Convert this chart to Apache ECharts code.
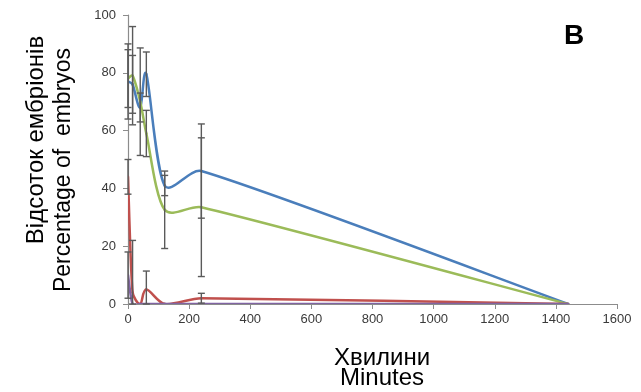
<!DOCTYPE html>
<html>
<head>
<meta charset="utf-8">
<script src="https://cdn.jsdelivr.net/npm/echarts@6/dist/echarts.min.js"></script>
<style>
    html, body { margin: 0; padding: 0; background: #fff; }
    #chart { width: 641px; height: 392px; }
</style>
</head>
<body>
<div id="chart"></div>
<script>
// time points (minutes)
const minutes = [0, 15, 40, 60, 120, 240, 1440];

// series values and +/- error
const blueVals   = [77, 76, 68, 79.5, 41, 46, 0];
const blueErr    = [13, 10, 5, 7.7, 3.5, 16.3, 0];
const greenVals  = [78, 79, 70, 59, 32.6, 33.5, 0];
const greenErr   = [10, 17, 18.6, 8, 13.4, 24, 0];
const redVals    = [44, 4, 0, 5, 0, 2, 0];
const redErr     = [6, 18, 0, 6.4, 0, 1.7, 0];
const purpleVals = [10, 0, 0, 0, 0, 0, 0];
const purpleErr  = [8, 0, 0, 0, 0, 0, 0];

const yTicks = [0, 20, 40, 60, 80, 100];
const xTicks = [0, 200, 400, 600, 800, 1000, 1200, 1400, 1600];

function pairs(vals){
    return minutes.map((m, i) => [m, vals[i]]);
}
function errRows(vals, errs){
    let rows = [];
    minutes.forEach((m, i) => {
        if (errs[i] > 0) rows.push([m, Math.max(0, vals[i] - errs[i]), vals[i] + errs[i]]);
    });
    return rows;
}

// control arm, 1/6 of neighbour difference, capped relative to the chord
function arm(a, b, chord){
    let dx = (b[0] - a[0]) / 6, dy = (b[1] - a[1]) / 6;
    let len = Math.sqrt(dx * dx + dy * dy);
    let cap = chord * 0.3;
    if (len > cap && len > 0) { dx *= cap / len; dy *= cap / len; }
    return [dx, dy];
}

// excel-like smoothed line: each item draws the bezier segment to the next point
function lineSeries(name, vals, color){
    let data = pairs(vals);
    return {
        name: name,
        type: 'custom',
        clip: true,
        data: data,
        z: 2,
        renderItem: function(params, api){
            let i = params.dataIndex;
            if (i >= data.length - 1) return { type: 'group', children: [] };
            let pts = data.map(d => api.coord(d));
            let p0 = pts[i - 1] || pts[i], p1 = pts[i], p2 = pts[i + 1], p3 = pts[i + 2] || pts[i + 1];
            let chord = Math.sqrt(Math.pow(p2[0] - p1[0], 2) + Math.pow(p2[1] - p1[1], 2));
            let a1 = arm(p0, p2, chord), a2 = arm(p1, p3, chord);
            return {
                type: 'bezierCurve',
                shape: {
                    x1: p1[0], y1: p1[1], x2: p2[0], y2: p2[1],
                    cpx1: p1[0] + a1[0], cpy1: p1[1] + a1[1],
                    cpx2: p2[0] - a2[0], cpy2: p2[1] - a2[1]
                },
                style: { stroke: color, lineWidth: 2.5, fill: null, lineCap: 'round' }
            };
        }
    };
}

function barSeries(vals, errs){
    return {
        type: 'custom',
        data: errRows(vals, errs),
        z: 3,
        renderItem: function(params, api){
            let lo = api.coord([api.value(0), api.value(1)]);
            let hi = api.coord([api.value(0), api.value(2)]);
            let w = 3.5;
            let st = { stroke: '#5a5a5a', lineWidth: 1.4 };
            return {
                type: 'group',
                children: [
                    { type: 'line', shape: { x1: lo[0], y1: lo[1], x2: hi[0], y2: hi[1] }, style: st },
                    { type: 'line', shape: { x1: hi[0] - w, y1: hi[1], x2: hi[0] + w, y2: hi[1] }, style: st },
                    { type: 'line', shape: { x1: lo[0] - w, y1: lo[1], x2: lo[0] + w, y2: lo[1] }, style: st }
                ]
            };
        }
    };
}

let myChart = echarts.init(document.getElementById('chart'));
myChart.setOption({
    animation: false,
    backgroundColor: '#fff',
    grid: { left: 128, right: 24, top: 15, bottom: 88 },
    xAxis: {
        type: 'value',
        min: 0,
        max: 1600,
        interval: 200,
        axisLine: { lineStyle: { color: '#8c8c8c', width: 1.2 } },
        axisTick: { show: true, length: 5, lineStyle: { color: '#8c8c8c' } },
        splitLine: { show: false },
        axisLabel: {
            color: '#3a3a3a', fontFamily: 'Liberation Sans, Arial', fontSize: 13, margin: 9,
            formatter: v => xTicks.indexOf(v) >= 0 ? String(v) : ''
        }
    },
    yAxis: {
        type: 'value',
        min: 0,
        max: 100,
        interval: 20,
        axisLine: { show: true, lineStyle: { color: '#8c8c8c', width: 1.2 } },
        axisTick: { show: true, length: 5, lineStyle: { color: '#8c8c8c' } },
        splitLine: { show: false },
        axisLabel: {
            color: '#3a3a3a', fontFamily: 'Liberation Sans, Arial', fontSize: 13, margin: 12,
            formatter: v => yTicks.indexOf(v) >= 0 ? String(v) : ''
        }
    },
    graphic: [
        {
            type: 'text', x: 36, y: 140, rotation: Math.PI / 2,
            style: { text: 'Відсоток ембріонів', font: '24px "Liberation Sans", Arial', fill: '#000',
                     textAlign: 'center', textVerticalAlign: 'middle' }
        },
        {
            type: 'text', x: 64, y: 170, rotation: Math.PI / 2,
            style: { text: 'Percentage of  embryos', font: '23px "Liberation Sans", Arial', fill: '#000',
                     textAlign: 'center', textVerticalAlign: 'middle' }
        },
        {
            type: 'text', x: 382, y: 358,
            style: { text: 'Хвилини', font: '24px "Liberation Sans", Arial', fill: '#000',
                     textAlign: 'center', textVerticalAlign: 'middle' }
        },
        {
            type: 'text', x: 382, y: 378,
            style: { text: 'Minutes', font: '24px "Liberation Sans", Arial', fill: '#000',
                     textAlign: 'center', textVerticalAlign: 'middle' }
        },
        {
            type: 'text', x: 574, y: 36,
            style: { text: 'B', font: 'bold 28px "Liberation Sans", Arial', fill: '#000',
                     textAlign: 'center', textVerticalAlign: 'middle' }
        }
    ],
    series: [
        lineSeries('blue', blueVals, '#4a7ebb'),
        lineSeries('green', greenVals, '#9bbb59'),
        lineSeries('red', redVals, '#c0504d'),
        lineSeries('purple', purpleVals, '#8064a2'),
        barSeries(blueVals, blueErr),
        barSeries(greenVals, greenErr),
        barSeries(redVals, redErr),
        barSeries(purpleVals, purpleErr)
    ]
});
</script>
</body>
</html>
